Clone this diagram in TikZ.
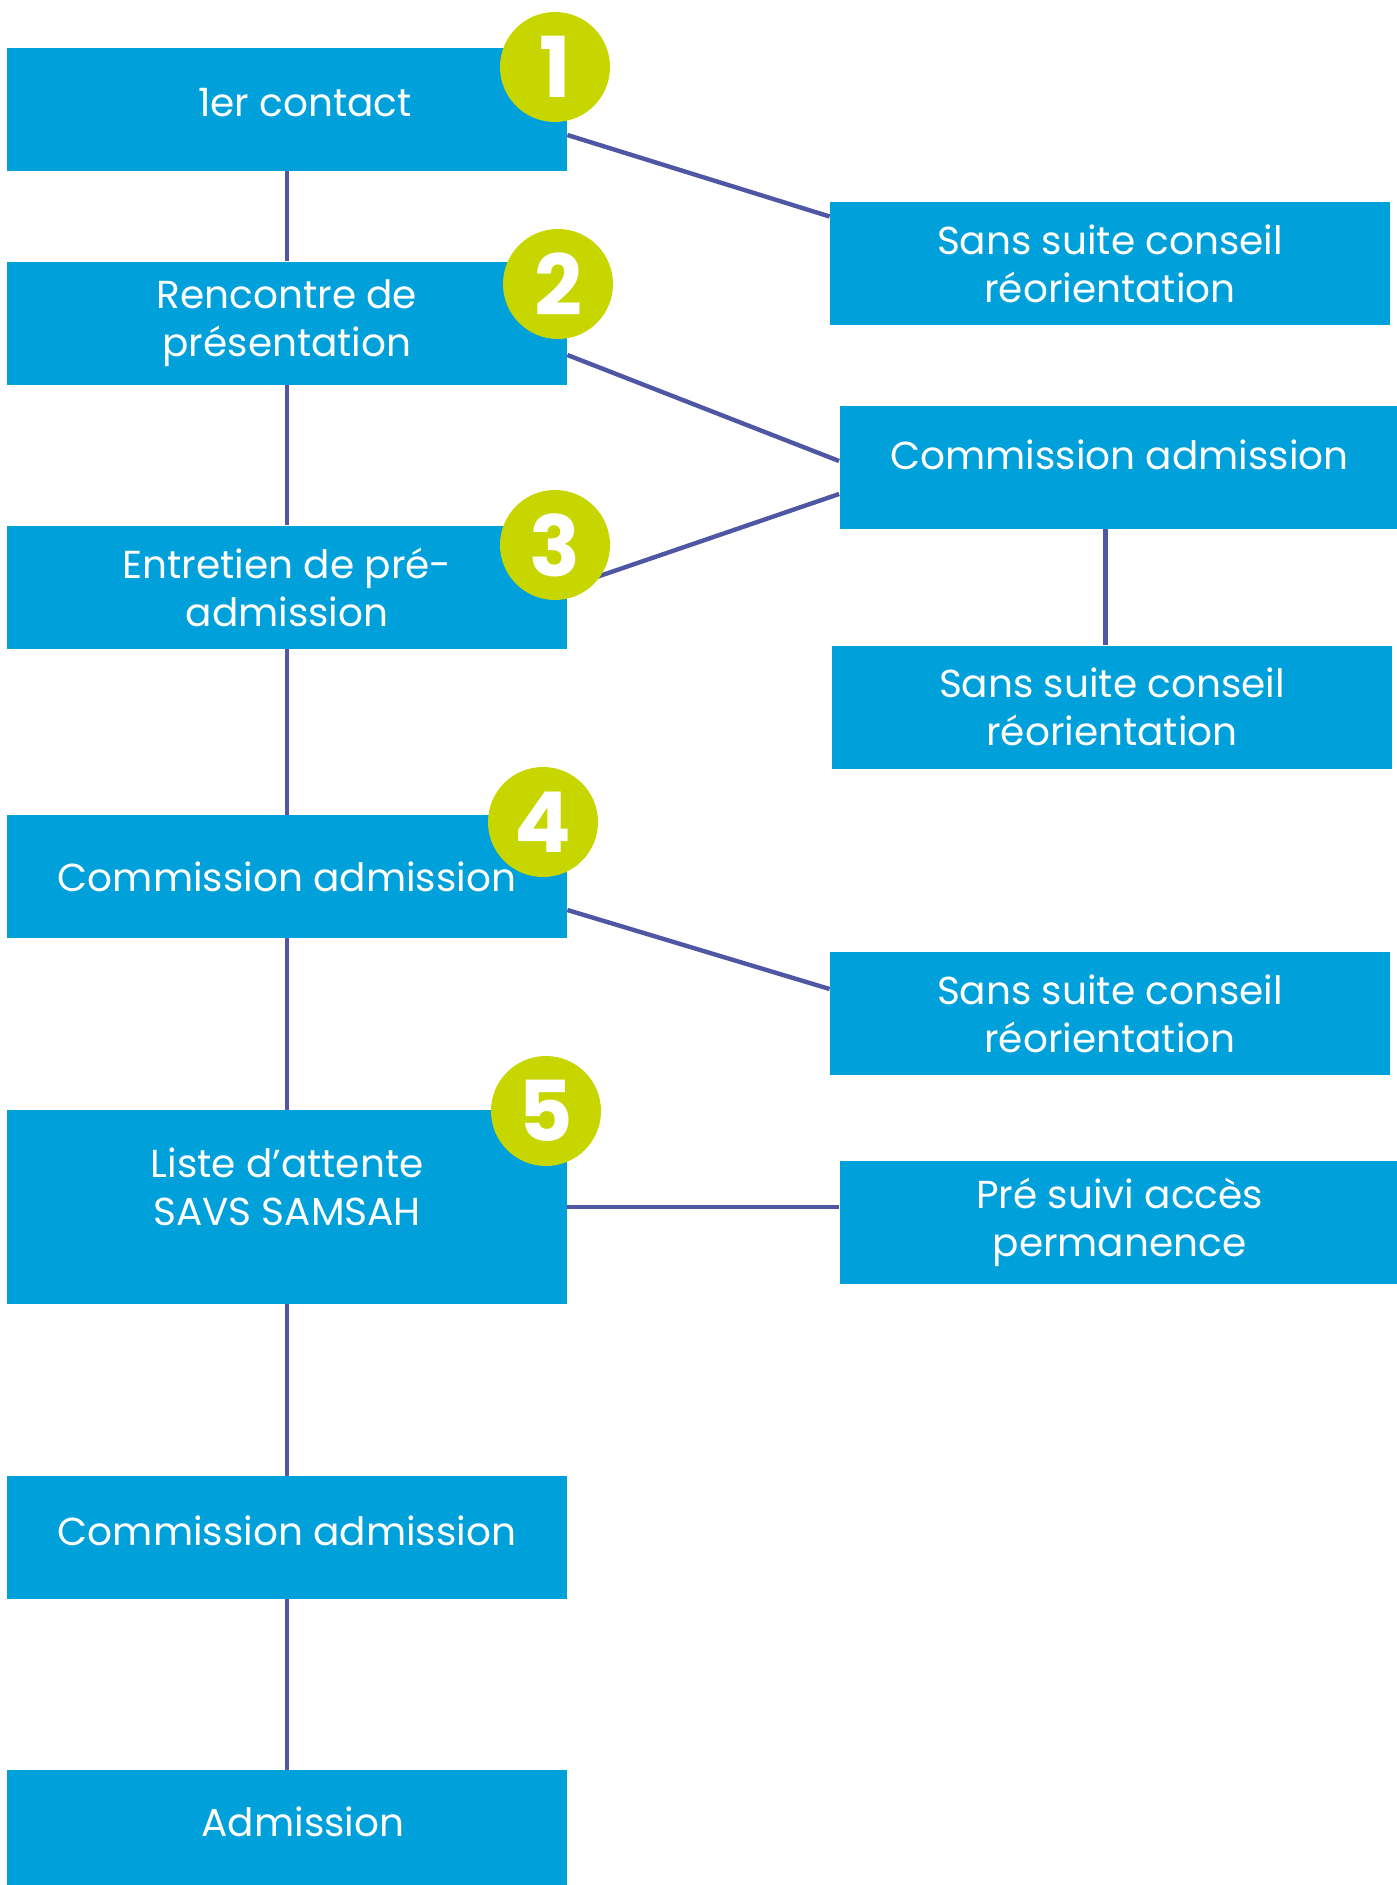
\documentclass[tikz,border=0pt]{standalone}
\usepackage{fontspec}
\setmainfont{Poppins}
\definecolor{boxblue}{RGB}{0,161,218}
\definecolor{stepgreen}{RGB}{200,214,0}
\definecolor{linkblue}{RGB}{79,87,164}
\begin{document}
\begin{tikzpicture}[x=0.5pt,y=-0.5pt,
  box/.style={fill=boxblue,text=white,align=center,inner sep=0pt,
    minimum width=280pt,minimum height=61.5pt,font=\fontsize{19.5}{24}\selectfont},
  num/.style={circle,fill=stepgreen,text=white,inner sep=0pt,minimum size=55pt,
    font=\fontsize{42}{42}\selectfont\bfseries},
  link/.style={draw=linkblue,line width=2.2pt}]
\useasboundingbox (0,0) rectangle (1397,1885);
\node[box,text depth=7pt] (b1) at (287,109.5) {\hspace*{18pt}1er contact};
\node[box] (b2) at (287,323) {Rencontre de\\présentation};
\node[box] (b3) at (287,587) {Entretien de pré-\\admission};
\node[box] (b4) at (287,876.5) {Commission admission};
\node[box,minimum height=97pt] (b5) at (287,1207) {Liste d’attente\\SAVS SAMSAH\\[-4pt]\mbox{}};
\node[box,text depth=7pt] (b6) at (287,1537.5) {Commission admission};
\node[box,text depth=10pt] (b7) at (287,1831.5) {\hspace*{16pt}Admission};
\node[box] (r1) at (1110,263.5) {Sans suite conseil\\réorientation};
\node[box,text depth=13pt] (r2) at (1119.5,467.5) {Commission admission};
\node[box] (r3) at (1112,707) {Sans suite conseil\\réorientation};
\node[box] (r4) at (1110,1013.5) {Sans suite conseil\\réorientation};
\node[box] (r5) at (1119.5,1222.5) {Pré suivi accès\\permanence};
\foreach \a/\b in {b1/b2,b2/b3,b3/b4,b4/b5,b5/b6,b6/b7}{
	\draw[link] (\a.south) -- (\b.north);}
\draw[link] ([yshift=-12.75pt]b1.east) -- ([yshift=23.5pt]r1.west);
\draw[link] ([yshift=-16pt]b2.east) -- ([yshift=3.25pt]r2.west);
\draw[link] (b3.east) -- ([yshift=-13.25pt]r2.west);
\draw[link] ([xshift=-7pt]r2.south) -- ([xshift=-7pt]r2.south |- r3.north);
\draw[link] ([yshift=-16.75pt]b4.east) -- ([yshift=12.25pt]r4.west);
\draw[link] (b5.east) -- (b5.east -| r5.west);
\foreach \n/\x/\y in {1/555/67,2/558/284,3/555/545,4/543/822,5/546/1111}{
	\node[num] (c\n) at (\x,\y) {\n};}
\end{tikzpicture}
\end{document}
